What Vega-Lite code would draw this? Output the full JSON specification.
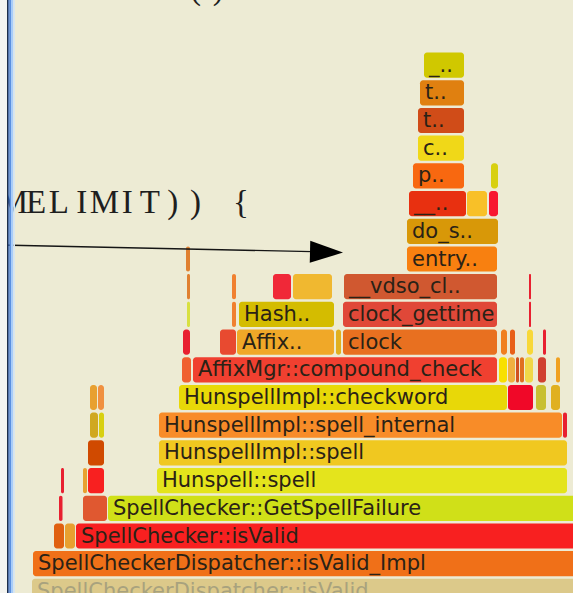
{
  "$schema": "https://vega.github.io/schema/vega-lite/v6.json",
  "width": 573,
  "height": 593,
  "autosize": {"type": "none"},
  "padding": 0,
  "background": "#EDEBD4",
  "view": {"stroke": null},
  "config": {"axis": {"disable": true}},
  "datasets": {
    "frames": [
      {"d": 0, "x0": 32, "x1": 600, "k": "c01", "name": "SpellCheckerDispatcher::isValid"},
      {"d": 1, "x0": 33, "x1": 600, "k": "c02", "name": "SpellCheckerDispatcher::isValid_Impl"},
      {"d": 2, "x0": 54, "x1": 64, "k": "c03"},
      {"d": 2, "x0": 65, "x1": 75, "k": "c04"},
      {"d": 2, "x0": 76, "x1": 600, "k": "c05", "name": "SpellChecker::isValid"},
      {"d": 3, "x0": 59, "x1": 62.5, "k": "c06"},
      {"d": 3, "x0": 83, "x1": 107, "k": "c07"},
      {"d": 3, "x0": 108, "x1": 600, "k": "c08", "name": "SpellChecker::GetSpellFailure"},
      {"d": 4, "x0": 61, "x1": 64, "k": "c06"},
      {"d": 4, "x0": 83, "x1": 87, "k": "c04"},
      {"d": 4, "x0": 88, "x1": 104, "k": "c05"},
      {"d": 4, "x0": 157, "x1": 567, "k": "c09", "name": "Hunspell::spell"},
      {"d": 5, "x0": 88, "x1": 104, "k": "c10"},
      {"d": 5, "x0": 159, "x1": 567, "k": "c11", "name": "HunspellImpl::spell"},
      {"d": 6, "x0": 90, "x1": 98, "k": "c12"},
      {"d": 6, "x0": 99, "x1": 104, "k": "c13"},
      {"d": 6, "x0": 159, "x1": 562, "k": "c14", "name": "HunspellImpl::spell_internal"},
      {"d": 6, "x0": 563, "x1": 567, "k": "c06"},
      {"d": 7, "x0": 90, "x1": 97, "k": "c04"},
      {"d": 7, "x0": 98, "x1": 104, "k": "c15"},
      {"d": 7, "x0": 179, "x1": 507, "k": "c16", "name": "HunspellImpl::checkword"},
      {"d": 7, "x0": 508, "x1": 533, "k": "c17"},
      {"d": 7, "x0": 536, "x1": 546, "k": "c18"},
      {"d": 7, "x0": 551, "x1": 560, "k": "c19"},
      {"d": 8, "x0": 182, "x1": 191, "k": "c20"},
      {"d": 8, "x0": 193, "x1": 497, "k": "c21", "name": "AffixMgr::compound_check"},
      {"d": 8, "x0": 499, "x1": 507, "k": "c22"},
      {"d": 8, "x0": 508, "x1": 515, "k": "c23"},
      {"d": 8, "x0": 516, "x1": 519, "k": "c24"},
      {"d": 8, "x0": 520, "x1": 524, "k": "c25"},
      {"d": 8, "x0": 525, "x1": 533, "k": "c26"},
      {"d": 8, "x0": 538, "x1": 546, "k": "c27"},
      {"d": 8, "x0": 556, "x1": 560, "k": "c28"},
      {"d": 9, "x0": 183, "x1": 190, "k": "c06"},
      {"d": 9, "x0": 220, "x1": 236, "k": "c29"},
      {"d": 9, "x0": 237, "x1": 334, "k": "c30", "name": "Affix.."},
      {"d": 9, "x0": 336, "x1": 341, "k": "c19"},
      {"d": 9, "x0": 343, "x1": 497, "k": "c31", "name": "clock"},
      {"d": 9, "x0": 501, "x1": 507, "k": "c32"},
      {"d": 9, "x0": 510, "x1": 515, "k": "c33"},
      {"d": 9, "x0": 527, "x1": 533, "k": "c34"},
      {"d": 9, "x0": 543, "x1": 546, "k": "c06"},
      {"d": 10, "x0": 187, "x1": 190, "k": "c35"},
      {"d": 10, "x0": 232, "x1": 236, "k": "c36"},
      {"d": 10, "x0": 239, "x1": 334, "k": "c37", "name": "Hash.."},
      {"d": 10, "x0": 343, "x1": 497, "k": "c38", "name": "clock_gettime"},
      {"d": 10, "x0": 529, "x1": 531, "k": "c06"},
      {"d": 11, "x0": 187, "x1": 190, "k": "c39"},
      {"d": 11, "x0": 232, "x1": 236, "k": "c36"},
      {"d": 11, "x0": 273, "x1": 291, "k": "c40"},
      {"d": 11, "x0": 293, "x1": 332, "k": "c41"},
      {"d": 11, "x0": 344, "x1": 497, "k": "c42", "name": "__vdso_cl.."},
      {"d": 11, "x0": 529, "x1": 531, "k": "c06"},
      {"d": 12, "x0": 186, "x1": 190, "k": "c39"},
      {"d": 12, "x0": 407, "x1": 497, "k": "c43", "name": "entry.."},
      {"d": 13, "x0": 407, "x1": 498, "k": "c44", "name": "do_s.."},
      {"d": 14, "x0": 409, "x1": 466, "k": "c45", "name": "__.."},
      {"d": 14, "x0": 467, "x1": 487, "k": "c46"},
      {"d": 14, "x0": 489, "x1": 498, "k": "c47"},
      {"d": 15, "x0": 413, "x1": 464, "k": "c48", "name": "p.."},
      {"d": 15, "x0": 491, "x1": 498, "k": "c13"},
      {"d": 16, "x0": 418, "x1": 464, "k": "c49", "name": "c.."},
      {"d": 17, "x0": 418, "x1": 464, "k": "c50", "name": "t.."},
      {"d": 18, "x0": 420, "x1": 464, "k": "c51", "name": "t.."},
      {"d": 19, "x0": 424, "x1": 464, "k": "c52", "name": "_.."}
    ],
    "edge": [
      {"x0": 0, "x1": 7, "k": "e1"},
      {"x0": 7, "x1": 8.3, "k": "e2"},
      {"x0": 8.3, "x1": 9.5, "k": "e3"},
      {"x0": 9.5, "x1": 11, "k": "e4"},
      {"x0": 11, "x1": 13.3, "k": "e5"},
      {"x0": 13.3, "x1": 15, "k": "e6"}
    ],
    "code": [
      {"line": 14.116, "col": 0, "ch": "M"},
      {"line": 14.116, "col": 1, "ch": "E"},
      {"line": 14.116, "col": 2, "ch": "L"},
      {"line": 14.116, "col": 3, "ch": "I"},
      {"line": 14.116, "col": 4, "ch": "M"},
      {"line": 14.116, "col": 5, "ch": "I"},
      {"line": 14.116, "col": 6, "ch": "T"},
      {"line": 14.116, "col": 7, "ch": ")"},
      {"line": 14.116, "col": 8, "ch": ")"},
      {"line": 14.116, "col": 10, "ch": "{"},
      {"line": 21.84, "col": 1, "ch": "r"},
      {"line": 21.84, "col": 2, "ch": "e"},
      {"line": 21.84, "col": 3, "ch": "s"},
      {"line": 21.84, "col": 4, "ch": "t"},
      {"line": 21.84, "col": 5, "ch": "a"},
      {"line": 21.84, "col": 6, "ch": "r"},
      {"line": 21.84, "col": 7, "ch": "t"},
      {"line": 21.84, "col": 8, "ch": "("},
      {"line": 21.84, "col": 9, "ch": ")"}
    ],
    "arrow": [
      {"x": 0, "y": 12.96, "x2": 312, "y2": 12.718}
    ],
    "head": [
      {"x": 326.5, "y": 12.70}
    ]
  },
  "layer": [
    {
      "data": {"name": "frames"},
      "mark": {"type": "rect", "cornerRadius": 3, "y2Offset": -25.2, "clip": true},
      "encoding": {
        "x": {"field": "x0", "type": "quantitative", "scale": {"domain": [0, 573], "nice": false, "zero": false}},
        "x2": {"field": "x1"},
        "y": {"field": "d", "type": "quantitative", "scale": {"domain": [0.397, 21.805], "nice": false, "zero": false}},
        "y2": {"field": "d"},
        "color": {
          "field": "k", "type": "nominal", "legend": null,
          "scale": {
            "domain": ["c01","c02","c03","c04","c05","c06","c07","c08","c09","c10","c11","c12","c13","c14","c15","c16","c17","c18","c19","c20","c21","c22","c23","c24","c25","c26","c27","c28","c29","c30","c31","c32","c33","c34","c35","c36","c37","c38","c39","c40","c41","c42","c43","c44","c45","c46","c47","c48","c49","c50","c51","c52"],
            "range": ["#DCC98A","#F07018","#E06010","#E8A030","#F82020","#E82030","#E05830","#D0E018","#E4E41C","#D04A00","#F0C820","#D0A820","#D8D010","#F88C28","#F09040","#E8D808","#F00828","#C8C030","#E0B020","#F06030","#F04030","#F8E000","#F0B040","#D05020","#E07020","#F0D848","#D04030","#F0A020","#E84A30","#F0A828","#E87020","#F08020","#E86018","#F8D838","#D8E040","#F08030","#D4BC00","#E04838","#E08030","#F02838","#F0B830","#D05830","#F88010","#D89808","#E83010","#F8C028","#F81830","#F86810","#F0D818","#D04C18","#E08010","#D0C800"]
          }
        }
      }
    },
    {
      "data": {"name": "frames"},
      "transform": [{"filter": "datum.name"}],
      "mark": {"type": "text", "align": "left", "baseline": "alphabetic", "dx": 5, "dy": -6, "font": "DejaVu Sans", "fontSize": 21, "clip": true},
      "encoding": {
        "x": {"field": "x0", "type": "quantitative", "scale": {"domain": [0, 573], "nice": false, "zero": false}},
        "y": {"field": "d", "type": "quantitative"},
        "text": {"field": "name"},
        "color": {"condition": {"test": "datum.d == 0", "value": "#A8A27E"}, "value": "#2A2216"}
      }
    },
    {
      "data": {"name": "code"},
      "mark": {"type": "text", "align": "center", "baseline": "alphabetic", "font": "Liberation Serif", "fontSize": 33, "color": "#1E1E1E", "clip": true},
      "encoding": {
        "x": {"field": "col", "type": "quantitative", "scale": {"domain": [-0.588, 24.599], "nice": false, "zero": false}},
        "y": {"field": "line", "type": "quantitative"},
        "text": {"field": "ch"}
      }
    },
    {
      "data": {"name": "arrow"},
      "mark": {"type": "rule", "color": "#151515", "strokeWidth": 1.3, "clip": true},
      "encoding": {
        "x": {"field": "x", "type": "quantitative", "scale": {"domain": [0, 573], "nice": false, "zero": false}},
        "y": {"field": "y", "type": "quantitative"},
        "x2": {"field": "x2"},
        "y2": {"field": "y2"}
      }
    },
    {
      "data": {"name": "head"},
      "mark": {"type": "point", "shape": "M -1 -0.667 L 1 0 L -1 0.667 Z", "size": 1089, "filled": true, "color": "#000000", "opacity": 1, "angle": 1.3, "clip": true},
      "encoding": {
        "x": {"field": "x", "type": "quantitative", "scale": {"domain": [0, 573], "nice": false, "zero": false}},
        "y": {"field": "y", "type": "quantitative"}
      }
    },
    {
      "data": {"name": "edge"},
      "mark": {"type": "rect", "clip": true},
      "encoding": {
        "x": {"field": "x0", "type": "quantitative", "scale": {"domain": [0, 573], "nice": false, "zero": false}},
        "x2": {"field": "x1"},
        "y": {"datum": 0.397},
        "y2": {"datum": 21.805},
        "color": {
          "field": "k", "type": "nominal", "legend": null,
          "scale": {"domain": ["e1","e2","e3","e4","e5","e6"], "range": ["#F4F4F0","#1E2E48","#2E58A8","#5A90E0","#A8CCF8","#D8E6F0"]}
        }
      }
    }
  ],
  "resolve": {"scale": {"color": "independent", "x": "independent"}}
}
